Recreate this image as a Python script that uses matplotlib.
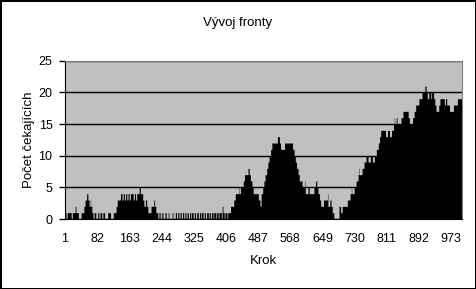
import numpy as np
import matplotlib
matplotlib.use('Agg')
import matplotlib.pyplot as plt

# delka fronty po usecich: krok, od ktereho plati, a pocet cekajicich
usek_start = [1, 4, 7, 17, 20, 27, 29, 35, 42, 49, 52, 56, 59, 62, 65, 66, 69, 72, 75, 79,
              84, 87, 90, 94, 97, 101, 109, 116, 123, 130, 133, 141, 145, 148, 151, 154, 157, 160, 163, 166,
              173, 176, 179, 182, 188, 191, 197, 200, 204, 207, 210, 218, 225, 227, 230, 235, 238, 241, 245, 248,
              253, 256, 261, 263, 271, 273, 279, 282, 285, 288, 291, 294, 297, 300, 303, 306, 309, 312, 315, 318,
              320, 324, 327, 330, 333, 337, 340, 343, 345, 349, 352, 355, 358, 362, 364, 367, 370, 374, 376, 381,
              383, 387, 389, 395, 397, 399, 402, 404, 409, 411, 418, 426, 430, 438, 439, 443, 450, 453, 462, 465,
              468, 472, 475, 488, 492, 495, 499, 502, 505, 509, 512, 515, 519, 522, 536, 541, 544, 554, 574, 578,
              581, 584, 588, 591, 598, 605, 606, 613, 616, 628, 632, 635, 638, 642, 645, 652, 662, 663, 668, 671,
              674, 678, 691, 695, 699, 712, 719, 722, 723, 729, 734, 739, 741, 742, 749, 754, 759, 764, 770, 775,
              780, 785, 790, 793, 796, 808, 813, 818, 823, 828, 830, 831, 835, 837, 847, 852, 865, 868, 876, 880,
              884, 892, 900, 907, 910, 913, 917, 922, 924, 929, 932, 935, 942, 945, 956, 959, 962, 969, 979, 989]
usek_pocet = [1, 0, 1, 0, 1, 2, 1, 0, 1, 2, 3, 4, 3, 2, 3, 2, 1, 0, 1, 0,
              1, 0, 1, 0, 1, 0, 1, 0, 1, 2, 3, 4, 3, 4, 3, 4, 3, 4, 3, 4,
              3, 4, 3, 4, 5, 4, 3, 2, 3, 2, 1, 2, 3, 2, 1, 0, 1, 0, 1, 0,
              1, 0, 1, 0, 1, 0, 1, 0, 1, 0, 1, 0, 1, 0, 1, 0, 1, 0, 1, 0,
              1, 0, 1, 0, 1, 0, 1, 0, 1, 0, 1, 0, 1, 0, 1, 0, 1, 0, 1, 0,
              1, 0, 1, 0, 2, 1, 0, 1, 0, 1, 2, 3, 4, 5, 4, 5, 6, 7, 8, 7,
              6, 5, 4, 3, 2, 4, 5, 6, 7, 8, 9, 10, 11, 12, 13, 12, 11, 12, 11, 10,
              9, 8, 7, 6, 5, 6, 4, 5, 4, 5, 6, 5, 4, 3, 2, 3, 4, 2, 3, 2,
              1, 0, 2, 1, 2, 3, 4, 5, 4, 5, 6, 7, 8, 7, 8, 9, 10, 9, 10, 9,
              10, 11, 12, 13, 14, 13, 14, 13, 14, 15, 16, 15, 16, 15, 16, 17, 16, 15, 16, 17,
              18, 19, 20, 21, 20, 19, 20, 19, 20, 19, 18, 17, 18, 19, 18, 19, 18, 17, 18, 19]
pocet_kroku = 1000
krok_ticks = [1, 82, 163, 244, 325, 406, 487, 568, 649, 730, 811, 892, 973]
pocet_ticks = [0, 5, 10, 15, 20, 25]

hranice = np.array(usek_start + [pocet_kroku + 1])
fronta = np.repeat(usek_pocet, np.diff(hranice))
kroky = np.arange(1, pocet_kroku + 1)

plt.rcParams['font.family'] = ['Liberation Sans', 'DejaVu Sans']
fig = plt.figure(figsize=(4.76, 2.89), dpi=100)
fig.patch.set_edgecolor('black')
fig.patch.set_linewidth(2)

ax = fig.add_axes([65 / 476, 70 / 289, 397 / 476, 158.3 / 289])
ax.set_facecolor('#c0c0c0')
ax.set_axisbelow(True)
ax.yaxis.grid(True, color='black', linewidth=1)
ax.fill_between(kroky, fronta, step='mid', color='black', linewidth=0)

ax.set_xlim(1, pocet_kroku)
ax.set_ylim(0, 25)
ax.set_xticks(krok_ticks)
ax.set_yticks(pocet_ticks)
ax.tick_params(axis='x', length=0, pad=10, labelsize=9)
ax.tick_params(axis='y', length=4, width=1, pad=5, labelsize=9, color='black')
for s in ['left', 'bottom']:
    ax.spines[s].set_color('black')
for s in ['top', 'right']:
    ax.spines[s].set_color('#808080')

fig.text(238 / 476, 1 - 23 / 289, 'Vývoj fronty', ha='center', va='center', fontsize=9.5)
fig.text(263 / 476, 1 - 261 / 289, 'Krok', ha='center', va='center', fontsize=9.5)
fig.text(29 / 476, 1 - 140 / 289, 'Počet čekajících', ha='center', va='center',
         rotation=90, fontsize=9.5)

fig.savefig('out.png', dpi=100)
